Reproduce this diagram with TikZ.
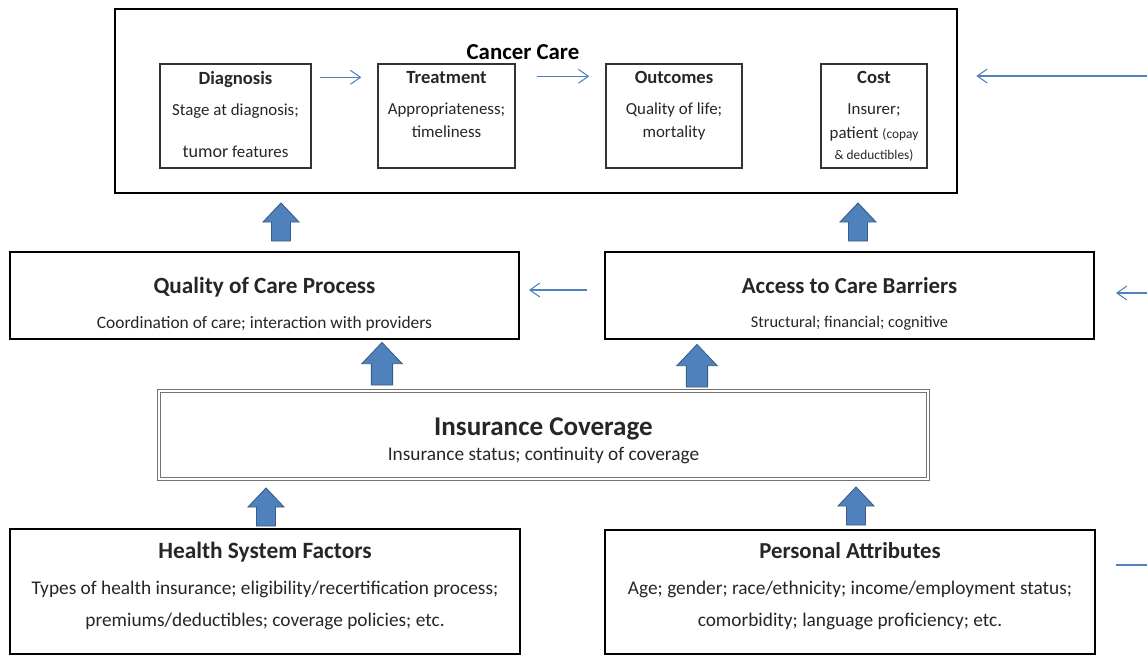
\documentclass[tikz,border=0pt]{standalone}
\usepackage{fontspec}
\setmainfont{Carlito}
\usepackage{tikz}
\usetikzlibrary{arrows.meta,positioning,calc}
\definecolor{officeblue}{RGB}{79,129,189}
\definecolor{officeedge}{RGB}{56,93,138}

\begin{document}
\begin{tikzpicture}[>={Straight Barb[length=2mm,width=2.8mm]},
	bigbox/.style={draw, line width=1.1pt, inner sep=0pt},
	smallbox/.style={draw=black!80, line width=0.8pt, inner sep=0pt, minimum height=2.08cm},
	flow/.style={->, officeblue, line width=0.6pt},
	boxtext/.style={anchor=north, inner sep=0pt, align=center, text=black!85},
	blockup/.pic={\draw[fill=officeblue, draw=officeedge, line width=0.5pt]
		(-0.19,0) -- (-0.19,0.38) -- (-0.36,0.38) -- (0,0.76) -- (0.36,0.38) -- (0.19,0.38) -- (0.19,0) -- cycle;}]
	\useasboundingbox (0,0) rectangle (22.94,-13.12);

	% cancer care and its four stages
	\node[bigbox, line width=1.5pt, minimum width=16.84cm, minimum height=3.68cm] (cancer) at (10.72,-2.02) {};
	\node[font=\bfseries\fontsize{13}{15}\selectfont] (cancertxt) at (10.46,-1.04) {Cancer Care};
	\node[smallbox, minimum width=3.02cm] (diag) at (4.71,-2.32) {};
	\node[smallbox, minimum width=2.74cm] (treat) at (8.93,-2.32) {};
	\node[smallbox, minimum width=2.72cm] (outc) at (13.48,-2.32) {};
	\node[smallbox, minimum width=2.12cm] (cost) at (17.48,-2.32) {};
	\node[boxtext, font=\fontsize{9.6}{13}\selectfont] (diagtxt) at (4.71,-1.42)
		{{\bfseries\fontsize{10.6}{13}\selectfont Diagnosis}\\[4.5pt] Stage at diagnosis;\\[10.8pt] {\fontsize{10.3}{13}\selectfont tumor} features};
	\node[boxtext, font=\fontsize{9.6}{13}\selectfont] (treattxt) at (8.93,-1.42)
		{{\bfseries\fontsize{10.6}{13}\selectfont Treatment}\\[4.5pt] Appropriateness;\\ timeliness};
	\node[boxtext, font=\fontsize{9.6}{13}\selectfont] (outctxt) at (13.48,-1.42)
		{{\bfseries\fontsize{10.6}{13}\selectfont Outcomes}\\[4.5pt] Quality of life;\\ mortality};
	\node[boxtext, font=\fontsize{9.6}{13}\selectfont] (costtxt) at (17.48,-1.42)
		{{\bfseries\fontsize{10.6}{13}\selectfont Cost}\\[4.5pt] Insurer;\\[0.6pt] patient {\fontsize{7.6}{9}\selectfont (copay}\\[-1.1pt] {\fontsize{7.6}{9}\selectfont \& deductibles)}};
	\draw[flow] ([xshift=0.16cm, yshift=-0.28cm]diag.north east) -- ([xshift=-0.32cm, yshift=-0.28cm]treat.north west);
	\draw[flow] ([xshift=0.42cm, yshift=-0.26cm]treat.north east) -- ([xshift=-0.32cm, yshift=-0.26cm]outc.north west);

	% care process and access barriers
	\node[bigbox, minimum width=10.18cm, minimum height=1.74cm] (quality) at (5.29,-5.91) {};
	\node[bigbox, minimum width=9.78cm, minimum height=1.74cm] (access) at (16.99,-5.91) {};
	\node[boxtext, font=\fontsize{9.9}{12}\selectfont] (qualitytxt) at (5.29,-5.54)
		{{\bfseries\fontsize{13.2}{15}\selectfont Quality of Care Process}\\[7.6pt] Coordination of care; interaction with providers};
	\node[boxtext, font=\fontsize{9.3}{12}\selectfont] (accesstxt) at (16.99,-5.54)
		{{\bfseries\fontsize{13}{15}\selectfont Access to Care Barriers}\\[7.6pt] Structural; financial; cognitive};
	\draw[flow] ([xshift=-0.34cm, yshift=0.11cm]access.west) -- ([xshift=0.18cm, yshift=0.11cm]quality.east);

	% insurance coverage
	\node[draw=black!55, line width=0.6pt, double=white, double distance=1.4pt, inner sep=0pt,
		minimum width=15.38cm, minimum height=1.76cm] (insur) at (10.87,-8.70) {};
	\node[boxtext, font=\fontsize{11}{13}\selectfont] (insurtxt) at (10.87,-8.34)
		{{\bfseries\fontsize{15.4}{17}\selectfont Insurance Coverage}\\[1.6pt] Insurance status; continuity of coverage};

	% factors at the bottom
	\node[bigbox, minimum width=10.20cm, minimum height=2.50cm] (health) at (5.30,-11.83) {};
	\node[bigbox, minimum width=9.80cm, minimum height=2.48cm] (person) at (17.00,-11.84) {};
	\node[boxtext, font=\fontsize{11}{13}\selectfont] (healthtxt) at (5.30,-10.84)
		{{\bfseries\fontsize{13.3}{15}\selectfont Health System Factors}\\[7.6pt] Types of health insurance; eligibility/recertification process;\\[5.1pt] premiums/deductibles; coverage policies; etc.};
	\node[boxtext, font=\fontsize{11}{13}\selectfont] (persontxt) at (17.00,-10.84)
		{{\bfseries\fontsize{13}{15}\selectfont Personal Attributes}\\[7.6pt] Age; gender; race/ethnicity; income/employment status;\\[5.1pt] comorbidity; language proficiency; etc.};

	% block arrows between the levels
	\foreach \x/\y in {5.62/-4.82, 17.16/-4.82, 5.32/-10.52, 17.12/-10.50}
		\pic at (\x,\y) {blockup};
	\foreach \x/\y in {7.64/-7.70, 13.94/-7.74}
		\pic[scale=1.12] at (\x,\y) {blockup};

	% feedback lines coming in from the right
	\coordinate (inA) at (22.94,-1.52);
	\coordinate (inB) at (22.94,-5.86);
	\coordinate (inC) at (22.94,-11.30);
	\draw[flow] (inA) -- ($(inA -| cancer.east)+(0.36,0)$);
	\draw[flow] (inB) -- ($(inB -| access.east)+(0.42,0)$);
	\draw[officeblue, line width=0.6pt] (inC) -- ($(inC -| person.east)+(0.40,0)$);
\end{tikzpicture}
\end{document}
